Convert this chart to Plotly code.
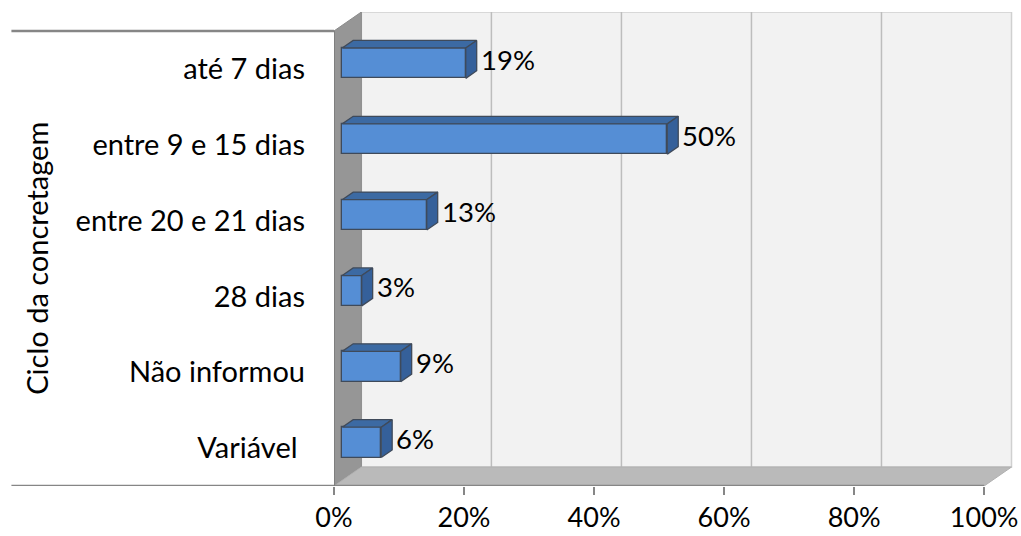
import plotly.graph_objects as go

# Survey results: concreting cycle
categories = ["até 7 dias", "entre 9 e 15 dias", "entre 20 e 21 dias",
              "28 dias", "Não informou", "Variável "]
values = [19, 50, 13, 3, 9, 6]
x_ticks = [0, 20, 40, 60, 80, 100]
x_tick_labels = ["0%", "20%", "40%", "60%", "80%", "100%"]
axis_title = "Ciclo da concretagem"

FONT = "Lato"
FS_CAT = 29
FS_TICK = 27
FS_LBL = 27.5

# pseudo-3D geometry (depth offsets in data units)
DX, DY = 4.21, 0.25          # full depth of the box
D0, D1 = 0.3, 0.7            # bar front/back depth fractions
H = 0.4                      # bar thickness (category units)

n = len(categories)
ypos = [n - 1 - i for i in range(n)]

W, HGT = 1021, 536
L, R, T, B = 334, 3, 12, 47
px_per_x = 653 / 100
x_max = (W - L - R) / px_per_x
y_min, y_max = -0.5, n - 0.5 + DY

fig = go.Figure()

# front faces of bars
fig.add_trace(go.Bar(
    x=values, y=[y + D0 * DY for y in ypos], base=D0 * DX,
    orientation="h", width=H,
    marker=dict(color="#558ed5", line=dict(color="#3f4a5a", width=1.3)),
    hoverinfo="skip", showlegend=False,
))

ddx, ddy = (D1 - D0) * DX, (D1 - D0) * DY
for v, y in zip(values, ypos):
    x0 = D0 * DX
    x1 = x0 + v
    yb = y + D0 * DY - H / 2
    yt = y + D0 * DY + H / 2
    # top face
    fig.add_trace(go.Scatter(
        x=[x0, x1, x1 + ddx, x0 + ddx, x0],
        y=[yt, yt, yt + ddy, yt + ddy, yt],
        mode="lines", fill="toself", fillcolor="#3c6aa3",
        line=dict(color="#3f4a5a", width=1.3), hoverinfo="skip", showlegend=False,
    ))
    # side face
    fig.add_trace(go.Scatter(
        x=[x1, x1 + ddx, x1 + ddx, x1, x1],
        y=[yb, yb + ddy, yt + ddy, yt, yb],
        mode="lines", fill="toself", fillcolor="#35609a",
        line=dict(color="#3f4a5a", width=1.3), hoverinfo="skip", showlegend=False,
    ))

shapes = []
# back wall
shapes.append(dict(type="rect", xref="x", yref="y", layer="below",
                   x0=DX, x1=100 + DX, y0=-0.5 + DY, y1=n - 0.5 + DY,
                   fillcolor="#f2f2f2", line=dict(color="#d0d0d0", width=1.5)))
for t in x_ticks[1:-1]:
    shapes.append(dict(type="line", xref="x", yref="y", layer="below",
                       x0=t + DX, x1=t + DX, y0=-0.5 + DY, y1=n - 0.5 + DY,
                       line=dict(color="#bdbdbd", width=1.5)))
# left wall
shapes.append(dict(type="path", xref="x", yref="y", layer="below",
                   path=f"M 0 -0.5 L {DX} {-0.5 + DY} L {DX} {n - 0.5 + DY} L 0 {n - 0.5} Z",
                   fillcolor="#969696", line=dict(color="#8a8a8a", width=1)))
# floor
shapes.append(dict(type="path", xref="x", yref="y", layer="below",
                   path=f"M 0 -0.5 L 100 -0.5 L {100 + DX} {-0.5 + DY} L {DX} {-0.5 + DY} Z",
                   fillcolor="#bababa", line=dict(color="#b0b0b0", width=1)))
# category axis lines extending to the left
left_paper = (10 - L) / (W - L - R)
for yy in (-0.5, n - 0.5):
    shapes.append(dict(type="line", xref="paper", yref="y",
                       x0=left_paper, x1=0, y0=yy, y1=yy,
                       line=dict(color="#868686", width=2.5)))
shapes.append(dict(type="line", xref="x", yref="y", x0=0, x1=100, y0=-0.5, y1=-0.5,
                   line=dict(color="#868686", width=2.5)))
shapes.append(dict(type="line", xref="x", yref="y", x0=0, x1=0, y0=-0.5, y1=n - 0.5,
                   line=dict(color="#7a7a7a", width=1.5)))

annotations = []
for v, y in zip(values, ypos):
    annotations.append(dict(
        x=D1 * DX + v, y=y + (D0 + D1) / 2 * DY, xref="x", yref="y",
        text=f"{v}%", showarrow=False, xanchor="left", xshift=2,
        font=dict(family=FONT, size=FS_LBL, color="#000000"),
    ))
annotations.append(dict(
    x=(35 - L) / (W - L - R), y=(536 - B - 260) / (536 - T - B), xref="paper", yref="paper",
    text=axis_title, textangle=-90, showarrow=False, xanchor="center", yanchor="middle",
    font=dict(family=FONT, size=FS_CAT, color="#000000"),
))

fig.update_layout(
    width=W, height=HGT,
    margin=dict(l=L, r=R, t=T, b=B, pad=0),
    paper_bgcolor="white", plot_bgcolor="white",
    shapes=shapes, annotations=annotations,
    font=dict(family=FONT, size=FS_TICK, color="#000000"),
    bargap=0,
    xaxis=dict(range=[0, x_max], tickvals=x_ticks, ticktext=x_tick_labels,
               showgrid=False, zeroline=False, showline=False,
               ticks="outside", ticklen=8, tickwidth=1.5, tickcolor="#868686",
               ticklabeloverflow="allow",
               tickfont=dict(family=FONT, size=FS_TICK, color="#000000"),
               fixedrange=True),
    yaxis=dict(range=[y_min, y_max], tickvals=ypos, ticktext=categories,
               showgrid=False, zeroline=False, showline=False, ticks="",
               ticklabelstandoff=28,
               tickfont=dict(family=FONT, size=FS_CAT, color="#000000"),
               fixedrange=True),
)

fig.write_html("out.html")
